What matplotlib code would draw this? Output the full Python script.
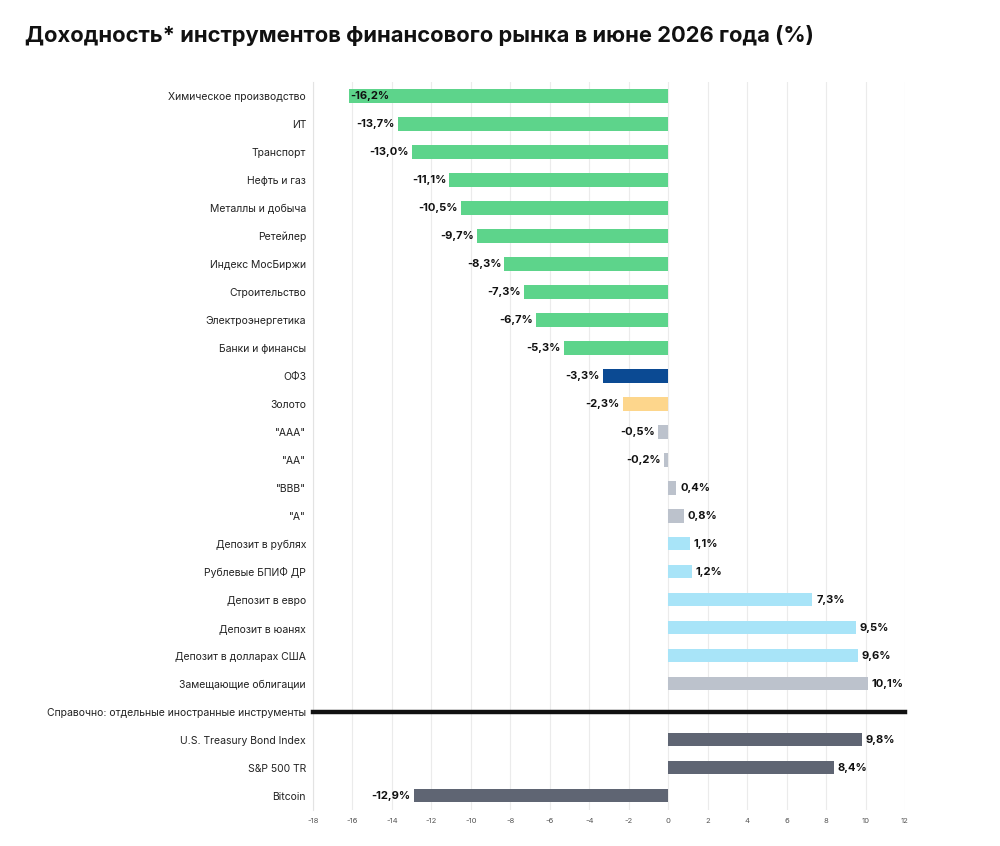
import matplotlib.pyplot as plt

plt.rcParams['font.family'] = ['Inter', 'DejaVu Sans']

labels = ["Химическое производство", "ИТ", "Транспорт", "Нефть и газ",
          "Металлы и добыча", "Ретейлер", "Индекс МосБиржи", "Строительство",
          "Электроэнергетика", "Банки и финансы", "ОФЗ", "Золото",
          "\"ААА\"", "\"АА\"", "\"BBB\"", "\"А\"", "Депозит в рублях",
          "Рублевые БПИФ ДР", "Депозит в евро", "Депозит в юанях",
          "Депозит в долларах США", "Замещающие облигации",
          "Справочно: отдельные иностранные инструменты",
          "U.S. Treasury Bond Index", "S&P 500 TR", "Bitcoin"]
values = [-16.2, -13.7, -13.0, -11.1, -10.5, -9.7, -8.3, -7.3, -6.7, -5.3,
          -3.3, -2.3, -0.5, -0.2, 0.4, 0.8, 1.1, 1.2, 7.3, 9.5, 9.6, 10.1,
          None, 9.8, 8.4, -12.9]
groups = ["g"] * 10 + ["b", "y", "s", "s", "s", "s", "c", "c", "c", "c", "c", "s",
                       None, "d", "d", "d"]
colors = {"g": "#5DD48B", "b": "#0B4A93", "y": "#FDD68C", "s": "#BCC2CC",
          "c": "#A8E4F8", "d": "#5F6573"}

fig = plt.figure(figsize=(10, 8.46), dpi=100)
ax = fig.add_axes([0.313, 0.043, 0.592, 0.860])

ys = list(range(len(labels)))
for y, v, g in zip(ys, values, groups):
    if v is None:
        # separator row
        ax.axhline(y, color="#111111", lw=3.2, zorder=3, clip_on=False)
        continue
    ax.barh(y, v, height=0.48, color=colors[g], zorder=2)
    txt = f"{v:.1f}%".replace(".", ",")
    if v < 0:
        if v < -15:
            ax.text(v + 0.1, y, txt, ha="left", va="center", fontsize=8,
                    fontweight="bold", color="#111111", zorder=4)
        else:
            ax.text(v - 0.15, y, txt, ha="right", va="center", fontsize=8,
                    fontweight="bold", color="#111111", zorder=4)
    else:
        ax.text(v + 0.2, y, txt, ha="left", va="center", fontsize=8,
                fontweight="bold", color="#111111", zorder=4)

ax.set_xlim(-18, 12)
ax.set_ylim(len(labels) - 0.5, -0.5)
ax.set_xticks(range(-18, 13, 2))
ax.set_xticklabels([str(t) for t in range(-18, 13, 2)], fontsize=5.5, color="#555555")
ax.set_yticks(ys)
ax.set_yticklabels(labels, fontsize=7.5, color="#222222")
ax.tick_params(axis="y", length=0, pad=5)
ax.tick_params(axis="x", length=0, pad=6)
ax.grid(axis="x", color="#EBEBEB", lw=0.8, zorder=0)
for s in ["top", "right", "bottom"]:
    ax.spines[s].set_visible(False)
ax.spines["left"].set_color("#E3E3E3")

fig.text(0.025, 0.958, "Доходность* инструментов финансового рынка в июне 2026 года (%)",
         fontsize=15.8, fontweight="bold", color="#111111", va="center")

fig.savefig("out.png", dpi=100)
